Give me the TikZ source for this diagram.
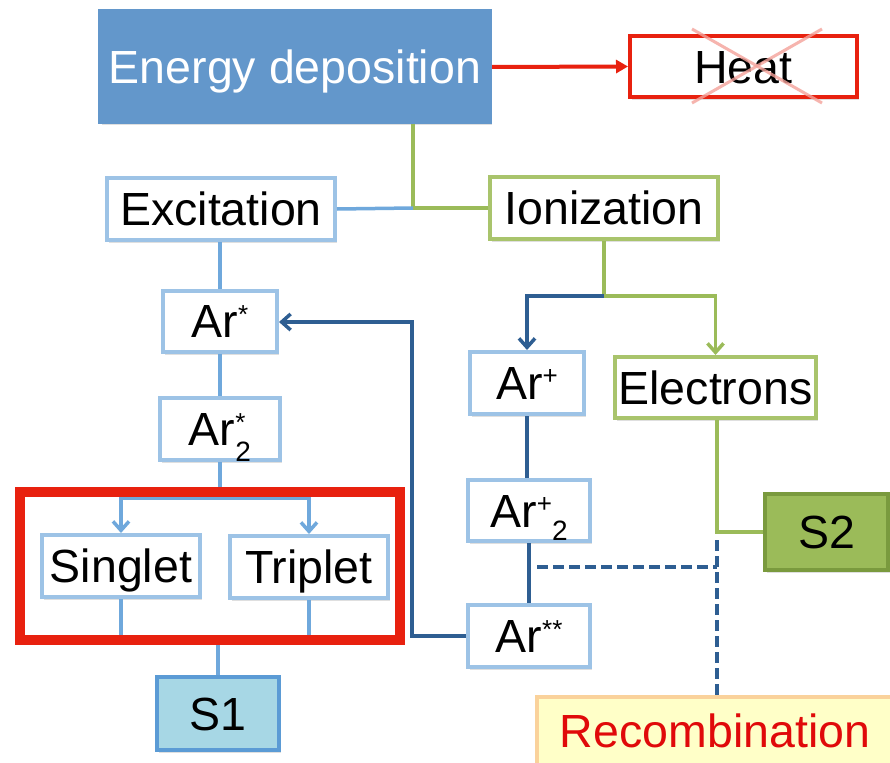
\documentclass[tikz,border=0pt]{standalone}
\usepackage{fontspec}
\setmainfont{Liberation Sans}
\usetikzlibrary{arrows.meta,shadows}
\definecolor{edepfill}{HTML}{6397CB}
\definecolor{redc}{HTML}{E8210F}
\definecolor{xred}{HTML}{F4A29A}
\definecolor{lbline}{HTML}{6FA8DC}
\definecolor{lbborder}{HTML}{9DC3E6}
\definecolor{grline}{HTML}{9BBB59}
\definecolor{grborder}{HTML}{A9C46C}
\definecolor{dbline}{HTML}{2E5E92}
\definecolor{sonefill}{HTML}{A7D7E5}
\definecolor{soneborder}{HTML}{5B9BD5}
\definecolor{stwofill}{HTML}{9BBB59}
\definecolor{stwoborder}{HTML}{7A9A3E}
\definecolor{recfill}{HTML}{FFFFC8}
\definecolor{recborder}{HTML}{FAD29B}
\definecolor{rectext}{HTML}{E00A0A}
\newcommand\mysupstar[1]{\raisebox{14pt}{\fontsize{26}{26}\selectfont #1}}
\newcommand\mysupplus{\raisebox{15pt}{\fontsize{26}{26}\selectfont +}}
\newcommand\mysubtwo[1]{\raisebox{-#1pt}{\fontsize{28}{28}\selectfont 2}}
\tikzset{
  box/.style={draw, line width=4pt, fill=white, inner sep=0pt, font=\fontsize{46.5}{50}\selectfont,
    text height=33.5pt, text depth=0pt,
    drop shadow={shadow xshift=1.5pt, shadow yshift=-3pt, opacity=0.25}},
  lbbox/.style={box, draw=lbborder},
  grbox/.style={box, draw=grborder},
  lb/.style={draw=lbline, line width=3.5pt},
  gr/.style={draw=grline, line width=3.5pt},
  db/.style={draw=dbline, line width=3.5pt},
  barb/.style={-{Straight Barb[length=9pt,width=16pt]}},
}
\begin{document}
\begin{tikzpicture}[x=1pt,y=-1pt]
\clip (0,0) rectangle (890,762);
\fill[white] (0,0) rectangle (890,762);

% nodes
\node[box, draw=edepfill, fill=edepfill, text=white, minimum width=390pt, minimum height=111pt] (edep) at (295,67) {Energy deposition};
\node[box, draw=redc, minimum width=227pt, minimum height=61pt] (heat) at (743.5,66.5) {Heat};
\node[lbbox, minimum width=228pt, minimum height=62pt] (exc) at (221,209) {Excitation};
\node[grbox, minimum width=228pt, minimum height=62pt] (ion) at (604,208) {Ionization};
\node[lbbox, minimum width=114pt, minimum height=61pt] (arstar) at (220,321) {Ar\mysupstar{*}};
\node[lbbox, minimum width=120pt, minimum height=62pt] (arstartwo) at (220,429) {Ar\makebox[0pt][l]{\mysupstar{*}}\mysubtwo{16}};
\node[lbbox, minimum width=158pt, minimum height=62pt] (singlet) at (121,566) {Singlet};
\node[lbbox, minimum width=158pt, minimum height=62pt] (triplet) at (309,567) {Triplet};
\node[box, draw=soneborder, fill=sonefill, minimum width=122pt, minimum height=73pt] (sone) at (218,713.5) {S1};
\node[lbbox, minimum width=114pt, minimum height=62pt] (arp) at (527,383) {Ar\mysupplus};
\node[grbox, minimum width=201pt, minimum height=61pt] (elec) at (715.5,387.5) {Electrons};
\node[lbbox, minimum width=122pt, minimum height=61pt] (arptwo) at (529,510.5) {Ar\mysupplus\mysubtwo{13}};
\node[lbbox, minimum width=122pt, minimum height=62pt] (arss) at (529,636) {Ar\mysupstar{**}};
\node[box, draw=stwoborder, fill=stwofill, minimum width=123pt, minimum height=76pt] (stwo) at (826.5,532) {S2};
\node[box, draw=recborder, fill=recfill, text=rectext, minimum width=356pt, minimum height=68pt] (recomb) at (715,731) {Recombination};

% crossed-out heat
\draw[xred, line width=3pt, opacity=0.8] (692,29) -- (822,103);
\draw[xred, line width=3pt, opacity=0.8] (822,29) -- (692,103);

% coordinates
\coordinate (jA) at (413,208);
\coordinate (jT) at (220,498);
\coordinate (jI) at (604,296);
\coordinate (jR) at (412,322);
\coordinate (jS) at (717,530);
\coordinate (dH) at (537,567);
\coordinate (dV) at (717,567);
\coordinate (dTop) at (717,540);

% connectors
\draw[redc, line width=4pt, -{Triangle[length=12pt,width=13pt]}] (edep.east) -- (heat.west);
\draw[gr] (jA |- edep.south) -- (jA) -- (ion.west);
\draw[lb] (exc.east) -- (jA);
\draw[lb] (exc.south -| arstar.north) -- (arstar.north);
\draw[lb] (arstar.south) -- (arstartwo.north);
\draw[lb] (arstartwo.south) -- (jT);
\draw[lb, barb] (jT) -| (singlet.north);
\draw[lb, barb] (jT) -| (triplet.north);
\draw[lb] (singlet.south) -- ++(0,44);
\draw[lb] (triplet.south) -- ++(0,43);
\draw[gr] (ion.south) -- (jI);
\draw[db, barb] (jI) -| (arp.north);
\draw[gr, barb] (jI) -| (elec.north);
\draw[db] (arp.south) -- (arptwo.north -| arp.south);
\draw[db] (arptwo.south) -- (arss.north);
\draw[db, barb] (arss.west) -| (jR) -- (arstar.east |- jR);
\draw[gr] (elec.south -| jS) |- (stwo.west);
\draw[db, dash pattern=on 11pt off 5pt] (dH) -- (dV);
\draw[db, dash pattern=on 11pt off 5pt] (dTop) -- (recomb.north -| dTop);

% red frame
\node[draw=redc, line width=10pt, minimum width=380pt, minimum height=148pt, inner sep=0pt] (frame) at (210,566) {};
\draw[lb] (frame.south -| sone.north) -- (sone.north);
\end{tikzpicture}
\end{document}
